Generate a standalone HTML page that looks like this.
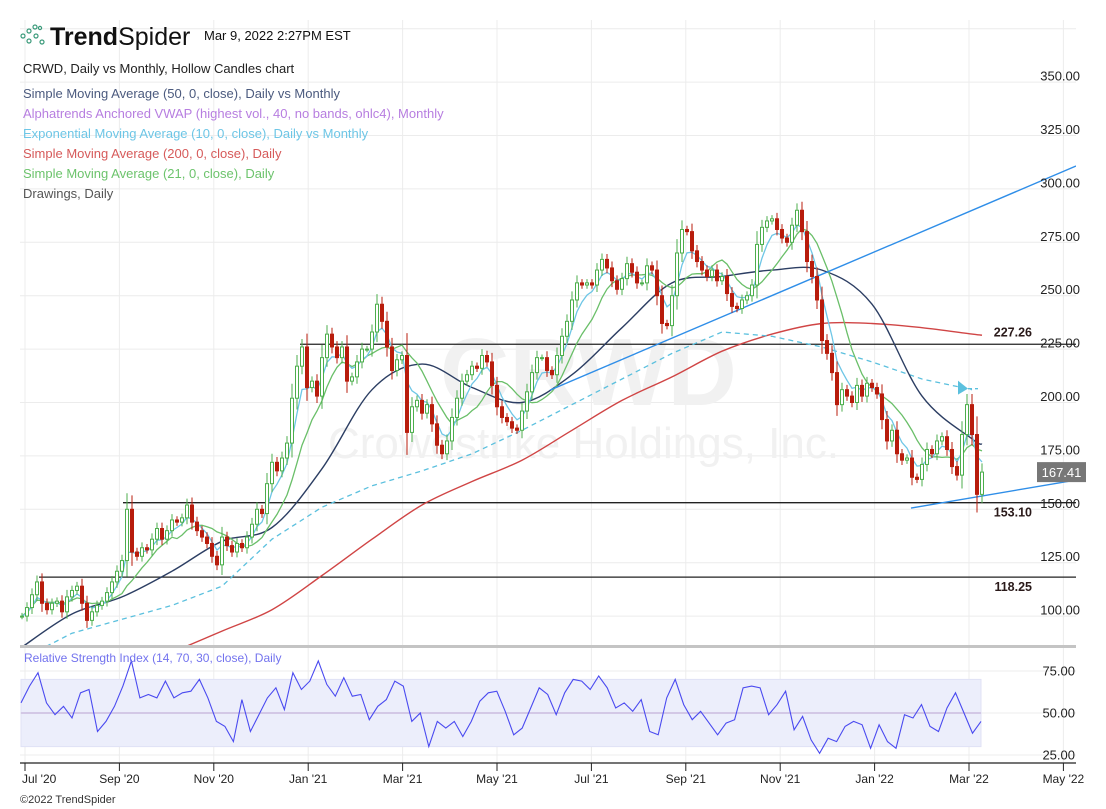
<!DOCTYPE html>
<html><head><meta charset="utf-8"><style>
html,body{margin:0;padding:0;background:#fff;}
svg{display:block;font-family:"Liberation Sans",sans-serif;}
</style></head><body>
<svg id="chart" width="1106" height="809" viewBox="0 0 1106 809">
<defs><clipPath id="pc"><rect x="20" y="20" width="1056" height="626"/></clipPath></defs>
<g id="grid"></g>
<text x="440" y="405" font-size="96" font-weight="bold" fill="#f1f1f1">CRWD</text>
<text x="328" y="458" font-size="44" fill="#f1f1f1">Crowdstrike Holdings, Inc.</text>
<g id="price" clip-path="url(#pc)"></g>
<g id="rsi"></g>
<g id="axes"></g>
<g>
 <g fill="none" stroke="#3a9a7a" stroke-width="1.2">
  <circle cx="23" cy="36" r="2"/><circle cx="29" cy="31" r="2"/><circle cx="29" cy="41" r="2"/><circle cx="35" cy="27" r="2"/><circle cx="36" cy="36" r="2"/><circle cx="42" cy="42" r="2"/><circle cx="40" cy="28" r="1.6"/>
 </g>
 <text x="50" y="45" font-size="25" fill="#111"><tspan font-weight="bold">Trend</tspan><tspan font-weight="normal">Spider</tspan></text>
 <text x="204" y="40" font-size="13" fill="#111">Mar 9, 2022 2:27PM EST</text>
 <text x="23" y="73" font-size="13" fill="#222">CRWD, Daily vs Monthly, Hollow Candles chart</text>
 <text x="23" y="98" font-size="13" fill="#4b5a7e">Simple Moving Average (50, 0, close), Daily vs Monthly</text>
 <text x="23" y="118" font-size="13" fill="#b77ee0">Alphatrends Anchored VWAP (highest vol., 40, no bands, ohlc4), Monthly</text>
 <text x="23" y="138" font-size="13" fill="#6ec6e6">Exponential Moving Average (10, 0, close), Daily vs Monthly</text>
 <text x="23" y="158" font-size="13" fill="#d65a5a">Simple Moving Average (200, 0, close), Daily</text>
 <text x="23" y="178" font-size="13" fill="#6cc36c">Simple Moving Average (21, 0, close), Daily</text>
 <text x="23" y="198" font-size="13" fill="#555">Drawings, Daily</text>
</g>
<text x="20" y="803" font-size="11" fill="#333">©2022 TrendSpider</text>
</svg>
<script>
const closes=[100,104,110,116,106,103,106,107,102,109,112,114,106,98,102,105,107,111,116,121,126,150,130,128,132,131,136,141,136,140,145,144,146,152,144,140,137,134,128,124,137,133,130,134,132,137,143,150,148,162,172,168,174,181,202,217,226,207,210,203,221,232,226,221,226,210,212,219,225,225,233,246,238,226,215,220,222,186,198,201,195,199,190,180,176,182,193,202,210,213,217,216,222,219,208,198,
193,191,188,187,196,205,214,221,221,215,213,222,231,238,248,256,255,256,255,262,267,263,257,253,258,265,261,256,256,264,262,250,237,236,250,270,281,280,271,266,262,259,262,257,259,251,245,244,248,250,255,274,282,285,286,281,277,275,283,290,280,266,259,248,229,223,214,199,206,203,200,208,203,209,207,204,192,182,187,176,173,174,165,164,171,178,176,182,184,178,170,166,185,199,185,157,167.41];
const sma50Sparse=[85.5,101,109,121,135,141.5,169,206,218,207,200,213,235,256,259,262,262,246,203,183,180.5];
const sma200Sparse=[null,null,null,83,93,103,119,136,152,163,173,187,201,212,224,232,237,237,235,232,231.5];
const vwapSparse=[80,92,98.5,105,114,136,151,161,168,176,187,199,211,223,233,231,226,219,211,206];
const rsiValues=[56,66,74,56,49,54,47,62,64,39,45,54,66,81,59,61,59,69,59,62,63,70,59,45,42,33,58,39,49,59,65,52,74,64,69,81,67,60,71,60,61,46,54,58,69,66,45,50,30,45,41,45,36,45,57,62,63,51,37,41,53,65,61,49,62,70,69,64,72,65,53,56,51,58,39,37,59,70,55,46,51,44,37,44,46,65,66,65,49,55,63,40,48,34,26,35,33,42,45,43,29,43,33,29,49,47,55,42,39,53,62,50,38,45];
const priceTicks=[100,125,150,175,200,225,250,275,300,325,350];
const rsiTicks=[25,50,75];
const monthLabels=["Jul '20","Sep '20","Nov '20","Jan '21","Mar '21","May '21","Jul '21","Sep '21","Nov '21","Jan '22","Mar '22","May '22"];
const levels=[227.26,153.10,118.25];

const NS="http://www.w3.org/2000/svg";
const X0=22,X1=982;
const N=closes.length;
const xi=i=>X0+i*(X1-X0)/(N-1);
const yP=p=>509.3-(p-150)*2.136;
const yR=v=>713-(v-50)*1.68;
const monthX=k=>25+k*94.4;
function mk(tag,attrs,parent){const e=document.createElementNS(NS,tag);for(const k in attrs)e.setAttribute(k,attrs[k]);parent.appendChild(e);return e;}
const G=document.getElementById('grid'),P=document.getElementById('price'),R=document.getElementById('rsi'),A=document.getElementById('axes');

[375].concat(priceTicks).forEach(p=>{const l=mk('line',{x1:20,x2:1076,y1:yP(p),y2:yP(p),stroke:'#ececec'},G);

});
monthLabels.forEach((m,k)=>{const x=monthX(k);if(x>1076)return;const l=mk('line',{x1:x,x2:x,y1:20,y2:763,stroke:'#ececec'},G);

});
rsiTicks.forEach(v=>{const l=mk('line',{x1:20,x2:1076,y1:yR(v),y2:yR(v),stroke:'#ececec'},G);

});

levels.forEach((v,k)=>{const sx=[300,123,39][k];const l=mk('line',{x1:sx,x2:1076,y1:yP(v),y2:yP(v),stroke:'#222','stroke-width':1.3},P);


const t=mk('text',{x:1032,y:yP(v)+(k==0?-8:14),'font-size':12.5,'font-weight':'bold','fill':'#2a1a1a','text-anchor':'end'},A);t.textContent=v.toFixed(2);

});

function path(pts,attrs,name){const d=pts.filter(p=>p[1]!=null).map((p,j)=>(j?'L':'M')+p[0].toFixed(1)+' '+p[1].toFixed(1)).join('');const e=mk('path',Object.assign({d:d,fill:'none'},attrs),P);

return e;}
function smoothPath(pts0,attrs,name){const pts=pts0.filter(p=>p[1]!=null);let d='M'+pts[0][0].toFixed(1)+' '+pts[0][1].toFixed(1);
for(let i=0;i<pts.length-1;i++){const p0=pts[Math.max(0,i-1)],p1=pts[i],p2=pts[i+1],p3=pts[Math.min(pts.length-1,i+2)];
const c1=[p1[0]+(p2[0]-p0[0])/6,p1[1]+(p2[1]-p0[1])/6],c2=[p2[0]-(p3[0]-p1[0])/6,p2[1]-(p3[1]-p1[1])/6];
d+='C'+c1[0].toFixed(1)+' '+c1[1].toFixed(1)+' '+c2[0].toFixed(1)+' '+c2[1].toFixed(1)+' '+p2[0].toFixed(1)+' '+p2[1].toFixed(1);}
const e=mk('path',Object.assign({d:d,fill:'none'},attrs),P);

return e;}
const sparseX=(k)=>k<20?X0+k*50:X1;

smoothPath(sma200Sparse.map((v,k)=>[sparseX(k),v==null?null:yP(v)]),{stroke:'#d04545','stroke-width':1.4},'sma200-line');
path(vwapSparse.map((v,k)=>[sparseX(k),yP(v)]),{stroke:'#5bc0de','stroke-width':1.3,'stroke-dasharray':'5,4'},'ema10-monthly-line');
const lastV=vwapSparse[vwapSparse.length-1];
const tri=mk('path',{d:`M958 ${yP(lastV)-9} L968 ${yP(lastV)-1} L958 ${yP(lastV)+5}Z`,fill:'#5bc0de'},P);


path([[968,yP(lastV)-1],[978,yP(lastV)-1]],{stroke:'#5bc0de','stroke-width':1.3,'stroke-dasharray':'4,3'},'vwap-tail');
smoothPath(sma50Sparse.map((v,k)=>[sparseX(k),yP(v)]),{stroke:'#2c3e63','stroke-width':1.4},'sma50-line');

const sma21=closes.map((c,i)=>{const s=closes.slice(Math.max(0,i-9),i+1);return s.reduce((a,b)=>a+b,0)/s.length;});
let e=closes[0];const ema10=closes.map(c=>(e=e+0.36*(c-e)));
path(sma21.map((v,i)=>[xi(i),yP(v)]),{stroke:'#6abf69','stroke-width':1.3},'sma21-line');
path(ema10.map((v,i)=>[xi(i),yP(v)]),{stroke:'#6ec6e6','stroke-width':1.3},'ema10-line');

const t1=mk('line',{x1:550,y1:yP(205.8),x2:1076,y2:yP(310.7),stroke:'#2f8ee8','stroke-width':1.4},P);


const t2=mk('line',{x1:911,y1:yP(150.6),x2:1076,y2:yP(163.7),stroke:'#2f8ee8','stroke-width':1.4},P);



closes.forEach((c,i)=>{const o=i?closes[i-1]:c;const up=c>=o;const x=xi(i);
const hi=Math.max(o,c)+0.25*Math.abs(c-o)+1.5,lo=Math.min(o,c)-0.25*Math.abs(c-o)-1.5;
const col=up?'#4cae4c':'#b81c0c';
const w=mk('line',{x1:x,x2:x,y1:yP(hi),y2:yP(lo),stroke:col,'stroke-width':1},P);


const top=yP(Math.max(o,c)),h=Math.max(1,yP(Math.min(o,c))-top);
const b=mk('rect',{x:x-1.5,y:top,width:3,height:h,fill:up?'#fff':col,stroke:col,'stroke-width':1},P);

});

const lp=closes[N-1];
const box=mk('rect',{x:1037,y:yP(lp)-10,width:49,height:20,fill:'#777'},A);


const lt=mk('text',{x:1061.5,y:yP(lp)+5,'font-size':13,fill:'#fff','text-anchor':'middle'},A);lt.textContent=lp.toFixed(2);



priceTicks.forEach(p=>{const t=mk('text',{x:1080,y:yP(p)-1.5,'font-size':13,fill:'#222','text-anchor':'end'},A);t.textContent=p.toFixed(2);

});

const sep=mk('rect',{x:20,y:645,width:1056,height:3,fill:'#c4c4c4'},A);



const band=mk('rect',{x:21,y:yR(70),width:960,height:yR(30)-yR(70),fill:'#eceefb',stroke:'#e0e2f6'},R);


const mid=mk('line',{x1:21,x2:981,y1:yR(50),y2:yR(50),stroke:'#d3c8e6','stroke-width':2},R);


const rN=rsiValues.length;
const rd=rsiValues.map((v,i)=>(i?'L':'M')+(21+i*960/(rN-1)).toFixed(1)+' '+yR(v).toFixed(1)).join('');
const rl=mk('path',{d:rd,fill:'none',stroke:'#4a4af0','stroke-width':1.1},R);


const rt=mk('text',{x:24,y:662,'font-size':12,fill:'#7373ee'},R);rt.textContent='Relative Strength Index (14, 70, 30, close), Daily';


rsiTicks.forEach(v=>{const t=mk('text',{x:1075,y:yR(v)+4.5,'font-size':13,fill:'#222','text-anchor':'end'},A);t.textContent=v.toFixed(2);

});

const ax=mk('line',{x1:20,x2:1076,y1:763,y2:763,stroke:'#222','stroke-width':1.3},A);


monthLabels.forEach((m,k)=>{const x=monthX(k);
const tk=mk('line',{x1:x,x2:x,y1:763,y2:771,stroke:'#222'},A);


const t=mk('text',{x:k==0?22:x,y:783,'font-size':12,fill:'#222','text-anchor':k==0?'start':'middle'},A);t.textContent=m;

});
</script>
</body></html>
